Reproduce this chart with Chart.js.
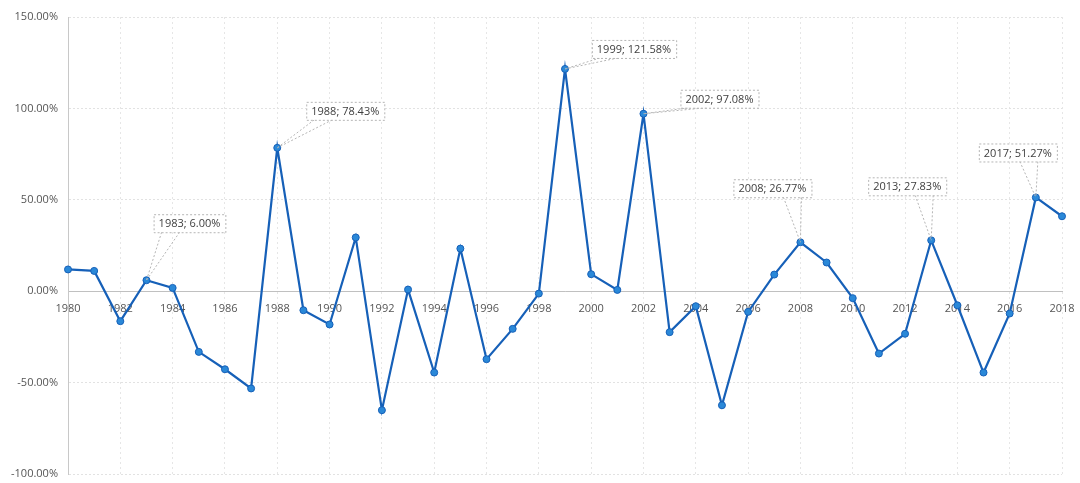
<!DOCTYPE html>
<html>
<head>
<meta charset="utf-8">
<script src="https://cdn.jsdelivr.net/npm/chart.js@4.4.1/dist/chart.umd.min.js"></script>
<style>
  html, body { margin: 0; padding: 0; background: #ffffff; }
  #wrap { width: 1080px; height: 483px; position: relative; }
</style>
</head>
<body>
<div id="wrap"><canvas id="c" width="1080" height="483"></canvas></div>
<script>
// ---- data ----
const years = [1980,1981,1982,1983,1984,1985,1986,1987,1988,1989,1990,1991,1992,1993,1994,1995,1996,1997,1998,1999,
               2000,2001,2002,2003,2004,2005,2006,2007,2008,2009,2010,2011,2012,2013,2014,2015,2016,2017,2018];
const values = [11.9,11.1,-16.4,6.00,1.8,-33.2,-42.7,-53.2,78.43,-10.4,-18.2,29.4,-65.1,0.9,-44.5,23.3,-37.2,-20.6,-1.3,121.58,
                9.3,0.7,97.08,-22.4,-8.2,-62.4,-11.3,9.1,26.77,15.7,-3.8,-34.1,-23.3,27.83,-7.7,-44.5,-12.2,51.27,41.0];
const yTicks = [-100,-50,0,50,100,150];
const annotatedYears = [1983,1988,1999,2002,2008,2013,2017];
// callout box centre offsets from the point (px)
const calloutOffsets = {1983:[43,-57],1988:[68,-37],1999:[69,-20],2002:[76,-15],2008:[-28,-54],2013:[-24,-54],2017:[-18,-45]};

const FONT = "'Open Sans', 'Liberation Sans', sans-serif";

const calloutPlugin = {
  id: 'callouts',
  afterDatasetsDraw(chart) {
    const ctx = chart.ctx;
    const meta = chart.getDatasetMeta(0);
    ctx.save();
    ctx.font = "11px " + FONT;
    annotatedYears.forEach(yr => {
      const i = years.indexOf(yr);
      const pt = meta.data[i];
      const text = yr + '; ' + values[i].toFixed(2) + '%';
      const off = calloutOffsets[yr];
      const cx = pt.x + off[0], cy = pt.y + off[1];
      const w = ctx.measureText(text).width + 10, h = 18;
      const left = cx - w / 2, top = cy - h / 2, bottom = cy + h / 2, right = cx + w / 2;
      const a1 = Math.min(Math.max(pt.x - 16, left + 8), right - 28);
      const a2 = a1 + 18;
      ctx.strokeStyle = '#b5b5b5';
      ctx.lineWidth = 1;
      ctx.setLineDash([2, 2]);
      ctx.beginPath();
      ctx.moveTo(a1, bottom); ctx.lineTo(pt.x, pt.y);
      ctx.moveTo(a2, bottom); ctx.lineTo(pt.x, pt.y);
      ctx.stroke();
      ctx.fillStyle = '#ffffff';
      ctx.fillRect(left, top, w, h);
      ctx.strokeRect(left + 0.5, top + 0.5, w, h);
      ctx.setLineDash([]);
      ctx.fillStyle = '#404040';
      ctx.textAlign = 'center';
      ctx.textBaseline = 'middle';
      ctx.fillText(text, cx, cy + 1);
    });
    ctx.restore();
  }
};

new Chart(document.getElementById('c'), {
  type: 'line',
  data: {
    labels: years.map(String),
    datasets: [{
      data: values,
      borderColor: '#1660b8',
      borderWidth: 2.2,
      pointRadius: 3.5,
      pointBackgroundColor: '#2a88d8',
      pointBorderColor: '#1660b8',
      pointBorderWidth: 1,
      tension: 0
    }]
  },
  options: {
    responsive: false,
    animation: false,
    layout: { padding: { left: 0, right: 18, top: 17, bottom: 9 } },
    plugins: { legend: { display: false }, tooltip: { enabled: false } },
    scales: {
      x: {
        position: { y: 0 },
        offset: false,
        afterFit: (s) => { s.paddingLeft = 0; s.paddingRight = 0; s.paddingTop = 0; s.paddingBottom = 0; },
        grid: {
          color: (c) => (c.index % 2 === 0 ? '#e6e6e6' : 'rgba(0,0,0,0)'),
          drawTicks: false,
          lineWidth: 1
        },
        border: { color: '#c0c0c0', width: 1, dash: [2, 3] },
        ticks: {
          autoSkip: false,
          maxRotation: 0,
          padding: 11,
          color: '#555555',
          font: { family: FONT, size: 11 },
          callback: function(v, i) { return i % 2 === 0 ? years[i] : ''; }
        }
      },
      y: {
        min: yTicks[0],
        max: yTicks[yTicks.length - 1],
        afterBuildTicks: (s) => { s.ticks = yTicks.map(v => ({ value: v })); },
        afterFit: (s) => { s.width = 68; s.paddingTop = 0; s.paddingBottom = 0; s.paddingLeft = 0; s.paddingRight = 0; },
        grid: { color: '#e2e2e2', drawTicks: false },
        border: { color: '#c8c8c8', dash: [2, 2] },
        ticks: {
          padding: 10,
          color: '#555555',
          font: { family: FONT, size: 11 },
          callback: (v) => v.toFixed(2) + '%'
        }
      }
    }
  },
  plugins: [calloutPlugin]
});
</script>
</body>
</html>
